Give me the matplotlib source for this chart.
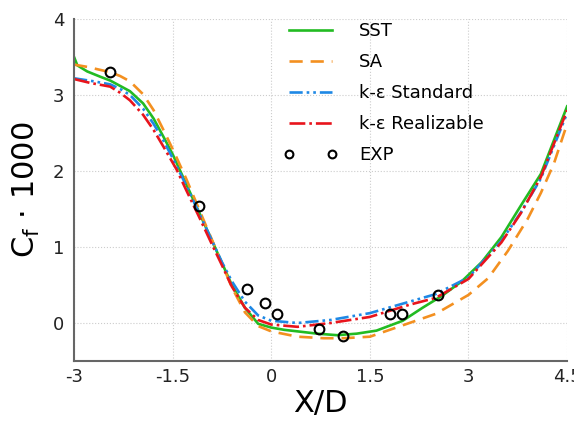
import numpy as np
import matplotlib
matplotlib.use('Agg')
import matplotlib.pyplot as plt

plt.rcParams['font.family'] = ['DejaVu Sans']
plt.rcParams['mathtext.fontset'] = 'dejavusans'

# SST
x_sst = [-3, -2.95, -2.8, -2.6, -2.45, -2.3, -2.15, -1.95, -1.79, -1.64, -1.5, -1.3, -1.1,
         -0.9, -0.75, -0.6, -0.4, -0.2, 0.0, 0.2, 0.4, 0.7, 1.0, 1.3, 1.6, 2.0, 2.3, 2.6,
         2.9, 3.2, 3.5, 3.8, 4.1, 4.5]
y_sst = [3.50, 3.39, 3.31, 3.24, 3.19, 3.12, 3.05, 2.89, 2.69, 2.45, 2.22, 1.84, 1.46,
         1.08, 0.79, 0.50, 0.20, -0.01, -0.06, -0.09, -0.11, -0.14, -0.16, -0.14, -0.10,
         0.03, 0.20, 0.36, 0.55, 0.80, 1.13, 1.55, 1.96, 2.85]

# SA
x_sa = [-3, -2.8, -2.6, -2.45, -2.3, -2.15, -1.95, -1.79, -1.64, -1.49, -1.3, -1.1, -0.9,
        -0.75, -0.6, -0.4, -0.2, 0.0, 0.4, 0.8, 1.1, 1.5, 2.0, 2.5, 3.0, 3.3, 3.6, 3.9,
        4.1, 4.3, 4.5]
y_sa = [3.40, 3.37, 3.33, 3.30, 3.25, 3.18, 3.01, 2.80, 2.54, 2.27, 1.91, 1.50, 1.09,
        0.78, 0.47, 0.14, -0.04, -0.11, -0.18, -0.20, -0.20, -0.18, -0.03, 0.12, 0.37,
        0.59, 0.95, 1.37, 1.71, 2.10, 2.62]

# k-eps standard
x_kes = [-3, -2.7, -2.45, -2.3, -2.15, -1.95, -1.79, -1.64, -1.5, -1.3, -1.1, -0.9, -0.75,
         -0.6, -0.4, -0.2, 0.0, 0.4, 0.9, 1.5, 2.1, 2.5, 3.0, 3.5, 3.8, 4.1, 4.5]
y_kes = [3.22, 3.18, 3.14, 3.08, 3.00, 2.82, 2.62, 2.40, 2.17, 1.82, 1.45, 1.08, 0.80,
         0.55, 0.28, 0.10, 0.03, 0.00, 0.04, 0.13, 0.28, 0.38, 0.60, 1.08, 1.46, 1.90, 2.76]

# k-eps realizable
x_ker = [-3, -2.76, -2.45, -2.3, -2.15, -1.95, -1.79, -1.64, -1.44, -1.3, -1.1, -0.9, -0.75,
         -0.6, -0.4, -0.2, 0.0, 0.4, 0.9, 1.5, 2.1, 2.5, 3.0, 3.5, 3.8, 4.1, 4.5]
y_ker = [3.21, 3.16, 3.11, 3.03, 2.93, 2.74, 2.54, 2.32, 2.02, 1.76, 1.40, 1.03, 0.76,
         0.48, 0.20, 0.04, -0.02, -0.05, 0.00, 0.08, 0.24, 0.33, 0.58, 1.06, 1.45, 1.92, 2.80]

# experiment
x_exp = [-2.45, -1.10, -0.37, -0.09, 0.09, 0.73, 1.09, 1.81, 1.99, 2.54]
y_exp = [3.30, 1.54, 0.45, 0.26, 0.12, -0.08, -0.17, 0.12, 0.12, 0.37]

xticks = [-3, -1.5, 0, 1.5, 3, 4.5]
xticklabels = ['-3', '-1.5', '0', '1.5', '3', '4.5']
yticks = [0, 1, 2, 3, 4]

fig = plt.figure(figsize=(5.74, 4.22), dpi=100)
ax = fig.add_axes([0.129, 0.1445, 0.859, 0.8105])

ax.plot(x_sst, y_sst, color='#22bb22', lw=1.9, label='SST')
ax.plot(x_sa, y_sa, color='#f39020', lw=1.9, ls=(0, (5, 3)), label='SA')
ax.plot(x_kes, y_kes, color='#1e88e5', lw=1.9, ls=(0, (5, 1.5, 1, 1.5, 1, 1.5)),
        label='k-ε Standard')
ax.plot(x_ker, y_ker, color='#e8141c', lw=1.9, ls=(0, (6, 1.5, 1, 1.5)),
        label='k-ε Realizable')
ax.plot(x_exp, y_exp, 'o', mfc='none', mec='black', mew=1.5, ms=7, label='EXP')

ax.set_xlim(-3, 4.5)
ax.set_ylim(-0.5, 4)
ax.set_xticks(xticks)
ax.set_xticklabels(xticklabels)
ax.set_yticks(yticks)
ax.tick_params(length=0, labelsize=13, colors='#222222')
ax.tick_params(axis='x', pad=5)
ax.tick_params(axis='y', pad=7)
ax.grid(True, ls=':', color='#cccccc', lw=0.8)
ax.set_axisbelow(True)
for s in ['top', 'right']:
    ax.spines[s].set_visible(False)
for s in ['left', 'bottom']:
    ax.spines[s].set_color('#666666')
    ax.spines[s].set_linewidth(1.5)

ax.set_xlabel('X/D', fontsize=22, labelpad=2)
ax.set_ylabel(r'C$_\mathrm{f}$ · 1000', fontsize=22, labelpad=8)

leg = ax.legend(loc='upper left', bbox_to_anchor=(0.424, 0.99), frameon=False, fontsize=13,
                handlelength=3.0, handletextpad=1.2, labelspacing=0.72, numpoints=2,
                markerscale=0.8, borderaxespad=0, borderpad=0)

fig.savefig('out.png', dpi=100)
